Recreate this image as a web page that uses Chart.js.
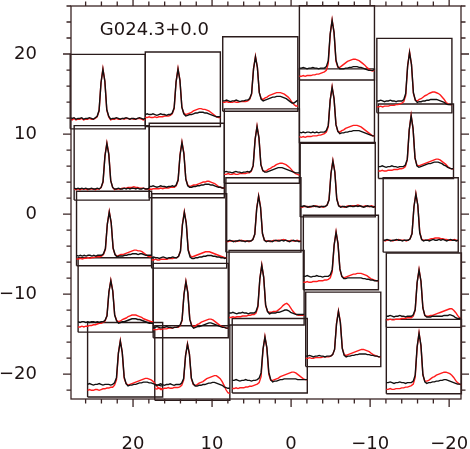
<!DOCTYPE html>
<html><head><meta charset="utf-8">
<script src="https://cdn.jsdelivr.net/npm/chart.js@4.4.0/dist/chart.umd.min.js"></script>
<style>html,body{margin:0;padding:0;background:#fff}</style>
</head><body>
<canvas id="c" width="470" height="449"></canvas>
<script>
const titleText = 'G024.3+0.0';
const xTickValues = [20, 10, 0, -10, -20];
const yTickValues = [20, 10, 0, -10, -20];
// panel order: column A (left) .. E (right), top to bottom
const panelCenterX = [23.2, 22.7, 22.4, 22.2, 21.0, 13.7, 13.2, 12.9, 12.7, 12.5, 3.9, 3.7, 3.5, 3.1, 2.7, -5.8, -5.8, -5.9, -6.3, -6.6, -15.6, -15.8, -16.4, -16.8, -16.8];
const panelCenterY = [15.3, 6.4, -1.8, -10.1, -18.2, 15.6, 6.7, -2.1, -10.8, -18.6, 17.5, 8.5, -0.1, -9.2, -17.7, 21.4, 13.5, 4.3, -4.8, -14.4, 17.3, 9.1, -0.1, -9.5, -17.8];
// spectra, % of panel height, 40 channels each
const spectraBlack = [
[15,14,15,13,14,14,15,13,14,14,15,14,13,15,17,25,62,80,64,26,17,13,14,14,15,14,13,14,14,15,14,13,14,14,13,14,15,14,13,14],
[16,15,16,15,16,15,16,15,15,16,15,15,16,15,17,25,59,76,61,26,17,15,15,16,15,15,16,15,16,15,16,16,15,16,15,15,16,15,15,16],
[14,13,14,13,14,13,14,14,13,14,13,14,14,14,16,23,56,72,58,24,15,12,13,13,13,14,14,15,15,16,16,16,15,16,16,15,14,14,14,14],
[14,13,14,14,13,14,13,14,14,13,14,13,14,14,16,22,54,69,55,23,15,12,13,14,14,15,16,17,18,18,18,17,17,16,15,14,13,12,12,12],
[17,18,17,16,17,17,18,17,16,17,17,17,16,17,19,26,59,75,60,27,18,15,16,16,17,17,18,19,19,20,20,20,19,19,18,17,16,16,15,15],
[16,17,16,16,17,16,15,16,17,16,16,15,16,16,18,25,60,77,62,26,17,14,15,16,16,17,18,18,19,19,19,18,18,17,16,15,14,13,13,13],
[15,15,16,15,14,15,16,15,15,14,15,15,16,15,17,24,57,74,59,25,16,14,14,15,15,16,16,17,17,18,18,18,17,17,16,15,14,14,13,13],
[14,15,14,14,13,14,15,14,13,14,14,15,14,14,16,23,58,75,60,24,15,13,13,14,14,15,15,16,16,17,17,17,16,16,15,15,14,14,13,14],
[14,14,15,14,13,14,14,15,14,14,13,14,14,15,17,24,58,75,60,25,16,13,14,15,15,16,17,18,19,20,20,19,18,17,16,15,14,14,13,13],
[21,20,21,22,21,20,21,21,22,21,20,21,21,21,23,29,60,75,62,30,22,19,19,20,20,21,21,22,23,23,24,24,23,22,21,20,18,17,16,16],
[14,14,15,14,13,14,14,15,14,13,14,14,15,15,17,24,57,73,59,25,16,14,15,16,17,18,19,19,20,20,20,19,18,17,15,13,11,11,13,15],
[15,16,15,15,14,15,16,15,15,14,15,15,16,15,17,24,59,76,61,25,17,15,15,16,17,18,19,20,21,21,21,20,19,18,17,16,15,14,14,14],
[15,15,16,15,14,15,15,16,15,15,14,15,15,15,17,24,58,75,60,25,16,14,15,15,14,15,16,15,15,16,15,16,15,14,15,16,15,15,14,15],
[16,16,17,16,15,16,16,17,16,16,15,16,16,16,18,26,62,80,64,27,18,15,16,16,16,17,17,18,19,20,20,19,17,16,15,14,14,14,14,14],
[17,17,18,17,16,17,17,18,17,17,16,17,17,18,20,27,59,75,61,28,18,15,16,16,17,18,18,19,19,19,19,19,19,19,18,18,18,18,18,18],
[16,16,17,16,15,16,16,17,16,16,15,16,16,16,18,26,62,80,64,27,18,15,15,15,16,16,17,17,18,18,18,17,17,16,15,14,13,13,13,14],
[15,14,15,14,15,15,14,15,14,15,14,15,15,15,17,24,58,75,60,25,16,13,14,14,15,15,16,16,17,17,17,17,16,15,14,13,12,11,10,10],
[14,14,15,14,13,14,14,15,14,14,13,14,14,14,16,23,58,75,60,24,15,13,14,14,13,14,15,14,14,15,14,15,14,13,14,15,14,14,13,14],
[18,18,19,18,17,18,18,19,18,18,17,18,18,18,20,27,60,77,62,28,18,15,15,16,16,16,16,16,16,16,16,15,15,14,14,13,13,12,12,12],
[14,14,15,14,13,14,14,15,14,14,13,14,14,14,16,23,57,74,59,24,15,13,14,14,15,15,16,16,17,17,17,17,16,16,15,15,14,14,13,13],
[16,16,17,16,15,16,16,17,16,16,15,16,16,16,18,26,63,81,65,27,17,14,15,15,16,16,17,17,18,18,18,18,17,16,15,14,12,11,11,11],
[16,16,17,16,15,16,16,17,16,16,15,16,16,16,18,26,65,84,67,28,17,15,16,17,18,19,20,20,21,22,22,22,21,20,18,17,15,14,13,13],
[16,16,17,16,15,16,16,17,16,16,15,16,16,16,18,25,61,78,63,26,17,15,16,16,15,16,17,16,16,17,16,17,16,15,16,17,16,16,15,16],
[15,15,16,15,14,15,15,16,15,15,14,15,15,15,17,24,60,77,62,26,16,14,14,14,15,15,15,15,15,15,16,16,16,17,16,15,13,12,12,12],
[15,15,16,15,14,15,15,16,15,15,14,15,15,15,17,25,63,81,65,26,16,14,15,15,16,16,17,17,18,18,19,19,18,17,16,15,14,13,13,13]
];
const spectraRed = [
[13,12,14,12,13,13,14,12,13,13,14,13,13,14,16,24,62,81,64,25,16,12,13,13,14,13,13,14,13,14,14,13,14,13,13,14,14,13,12,13],
[15,14,15,14,15,15,15,14,15,15,15,14,15,15,17,24,60,77,62,26,17,14,15,15,15,16,16,16,17,17,17,18,17,17,16,16,16,15,15,15],
[9,9,10,9,10,10,11,10,11,11,12,12,12,13,15,22,56,73,58,23,15,13,14,15,15,16,17,18,19,20,21,21,20,20,19,17,15,13,12,12],
[7,7,8,7,8,8,9,9,10,10,11,12,12,13,15,22,54,70,56,23,16,14,15,17,18,19,21,22,23,23,23,22,21,20,18,17,16,15,14,14],
[9,10,9,9,10,10,9,10,11,11,12,12,13,13,16,23,59,76,60,25,18,16,17,18,19,20,21,22,23,24,25,25,24,23,21,18,14,12,10,10],
[12,12,13,12,12,13,12,13,13,13,14,14,14,15,17,24,60,78,62,26,18,16,17,18,19,21,22,23,24,24,23,23,22,21,19,17,15,13,12,12],
[12,11,12,12,12,12,13,12,13,13,13,14,14,14,16,23,58,75,60,25,17,15,16,17,17,18,19,20,21,21,22,22,21,20,19,17,15,14,13,13],
[11,11,12,11,11,12,12,12,12,13,13,13,14,14,16,23,59,76,61,25,17,15,16,17,18,19,20,21,22,22,22,21,20,19,18,17,16,15,14,14],
[11,11,11,12,11,12,12,12,13,13,13,14,14,14,16,23,59,76,61,25,17,15,16,18,19,21,22,23,24,25,25,24,22,20,18,16,15,14,13,13],
[16,15,16,16,15,16,16,17,16,16,17,17,17,18,20,27,60,76,62,29,21,20,21,23,24,25,27,29,30,31,32,33,33,31,29,25,20,14,10,9],
[12,12,13,12,12,12,13,12,12,13,13,13,13,14,16,23,57,74,59,25,17,16,18,19,21,22,23,24,25,25,25,24,23,21,19,16,12,9,7,7],
[12,12,13,12,12,13,12,12,13,13,13,13,14,14,16,23,59,77,61,25,17,16,17,19,20,22,23,25,26,27,27,26,25,23,21,18,15,13,12,11],
[15,14,15,15,15,14,15,15,16,15,15,15,14,15,17,24,59,76,61,25,16,15,15,14,15,16,15,16,16,16,17,16,15,15,16,15,15,16,15,14],
[10,10,11,10,11,11,11,12,12,12,13,13,14,14,16,24,62,81,64,26,18,17,17,18,18,19,21,23,26,28,29,27,23,19,16,14,13,13,13,13],
[6,6,7,6,7,7,7,8,8,9,9,10,11,12,14,22,58,76,60,25,17,17,18,19,20,22,23,24,25,26,27,28,28,27,25,23,21,19,18,18],
[5,5,6,5,6,6,6,7,7,8,8,9,10,11,13,22,61,81,64,25,17,17,19,21,23,25,26,27,28,28,27,26,24,22,20,17,15,13,12,13],
[9,8,9,8,9,9,9,10,10,10,11,11,12,13,15,22,58,76,60,25,16,15,17,18,20,21,22,23,24,24,24,23,22,20,18,16,14,12,10,10],
[14,13,14,14,14,13,14,14,15,14,14,14,13,14,16,23,59,76,61,25,15,14,14,13,14,15,14,15,15,15,16,15,14,14,15,14,14,15,14,13],
[10,10,11,10,10,11,11,11,12,12,12,13,13,14,16,24,60,78,62,27,18,16,17,18,19,20,21,21,22,22,22,21,20,19,17,15,14,13,12,12],
[11,11,12,11,11,12,12,12,12,13,13,13,13,14,16,23,58,75,60,25,16,15,16,17,18,19,20,21,22,23,23,22,21,20,18,16,15,14,13,13],
[8,8,9,8,9,9,9,10,10,10,11,11,12,13,15,23,63,82,65,26,17,16,18,19,21,23,24,26,27,28,28,27,26,24,21,18,14,12,11,11],
[10,10,11,10,10,11,11,11,12,12,12,13,13,14,16,25,65,85,67,27,18,17,18,19,20,21,22,23,24,25,26,26,25,23,21,19,16,14,13,13],
[16,15,16,16,16,15,16,16,17,16,16,16,15,16,18,25,61,79,63,27,17,16,16,16,17,18,18,19,19,19,18,18,17,17,16,16,16,17,16,15],
[10,10,11,10,10,11,11,11,12,12,12,13,13,13,15,23,60,78,62,26,16,15,15,16,16,17,18,19,20,21,22,23,24,25,25,23,20,16,13,12],
[6,6,7,6,6,7,7,7,8,8,9,9,10,11,13,22,62,82,64,25,17,17,18,20,22,23,25,26,27,28,29,29,28,27,25,22,18,15,13,12]
];
const panelWidth = 9.5;   // axis units
const panelHeight = 9.3;  // axis units

const fmt = v => (v < 0 ? '\u2212' + Math.abs(v) : String(v));
const FONT = 'DejaVu Sans';
const INK = '#3a2424';

const datasets = [];
panelCenterX.forEach((cx, b) => {
  const cy = panelCenterY[b];
  const xl = cx + panelWidth / 2, xr = cx - panelWidth / 2;
  const yb = cy - panelHeight / 2, yt = cy + panelHeight / 2;
  const toPts = arr => arr.map((v, i) => ({ x: xl - i / (arr.length - 1) * panelWidth, y: yb + v / 100 * panelHeight }));
  const common = { showLine: true, pointRadius: 0, tension: 0, fill: false, clip: 6 };
  datasets.push(Object.assign({ data: toPts(spectraBlack[b]), borderColor: '#121010', borderWidth: 1.4, order: 1 }, common));
  datasets.push(Object.assign({ data: toPts(spectraRed[b]), borderColor: '#ff1c1c', borderWidth: 1.4, order: 2 }, common));
  datasets.push(Object.assign({ data: [{x: xl, y: yb}, {x: xr, y: yb}, {x: xr, y: yt}, {x: xl, y: yt}, {x: xl, y: yb}], borderColor: '#2a1b1b', borderWidth: 1.4, order: 3 }, common));
});

const zeroPad = s => { s.paddingTop = 0; s.paddingBottom = 0; s.paddingLeft = 0; s.paddingRight = 0; };

const framePlugin = {
  id: 'frame',
  afterDraw(chart) {
    const { ctx, chartArea: a, scales: { x, y } } = chart;
    ctx.save();
    ctx.strokeStyle = INK;
    ctx.lineWidth = 1.3;
    ctx.strokeRect(a.left, a.top, a.right - a.left, a.bottom - a.top);
    ctx.beginPath();
    for (let v = -22; v <= 28; v += 2) {
      const len = v % 10 === 0 ? 8 : 4.5;
      const px = x.getPixelForValue(v);
      if (px >= a.left && px <= a.right) {
        ctx.moveTo(px, a.bottom); ctx.lineTo(px, a.bottom + len);
        ctx.moveTo(px, a.top); ctx.lineTo(px, a.top - len);
      }
      const py = y.getPixelForValue(v);
      if (py >= a.top && py <= a.bottom) {
        ctx.moveTo(a.left, py); ctx.lineTo(a.left - len, py);
        ctx.moveTo(a.right, py); ctx.lineTo(a.right + len, py);
      }
    }
    ctx.stroke();
    ctx.fillStyle = '#1e1414';
    ctx.font = '18px "' + FONT + '"';
    ctx.textAlign = 'center';
    ctx.textBaseline = 'middle';
    ctx.fillText(titleText, x.getPixelForValue(17.3), y.getPixelForValue(22.9));
    ctx.restore();
  }
};

new Chart(document.getElementById('c'), {
  type: 'scatter',
  data: { datasets },
  plugins: [framePlugin],
  options: {
    responsive: false, animation: false, devicePixelRatio: 1,
    layout: { padding: { left: 0, right: 9, top: 6, bottom: 0 } },
    plugins: { legend: { display: false }, tooltip: { enabled: false } },
    scales: {
      x: {
        type: 'linear', reverse: true, min: -21.5, max: 27.85,
        afterFit(s) { s.height = 50; zeroPad(s); },
        afterBuildTicks(s) { s.ticks = xTickValues.map(v => ({ value: v })); },
        grid: { display: false, drawTicks: false }, border: { display: false },
        ticks: { padding: 35, autoSkip: false, maxRotation: 0, minRotation: 0, color: '#1e1414', font: { family: FONT, size: 18 }, callback: v => fmt(v) }
      },
      y: {
        type: 'linear', min: -23.1, max: 26,
        afterFit(s) { s.width = 71; zeroPad(s); },
        afterBuildTicks(s) { s.ticks = yTickValues.map(v => ({ value: v })); },
        grid: { display: false, drawTicks: false }, border: { display: false },
        ticks: { padding: 34, autoSkip: false, color: '#1e1414', font: { family: FONT, size: 18 }, callback: v => fmt(v) }
      }
    }
  }
});
</script>
</body></html>
